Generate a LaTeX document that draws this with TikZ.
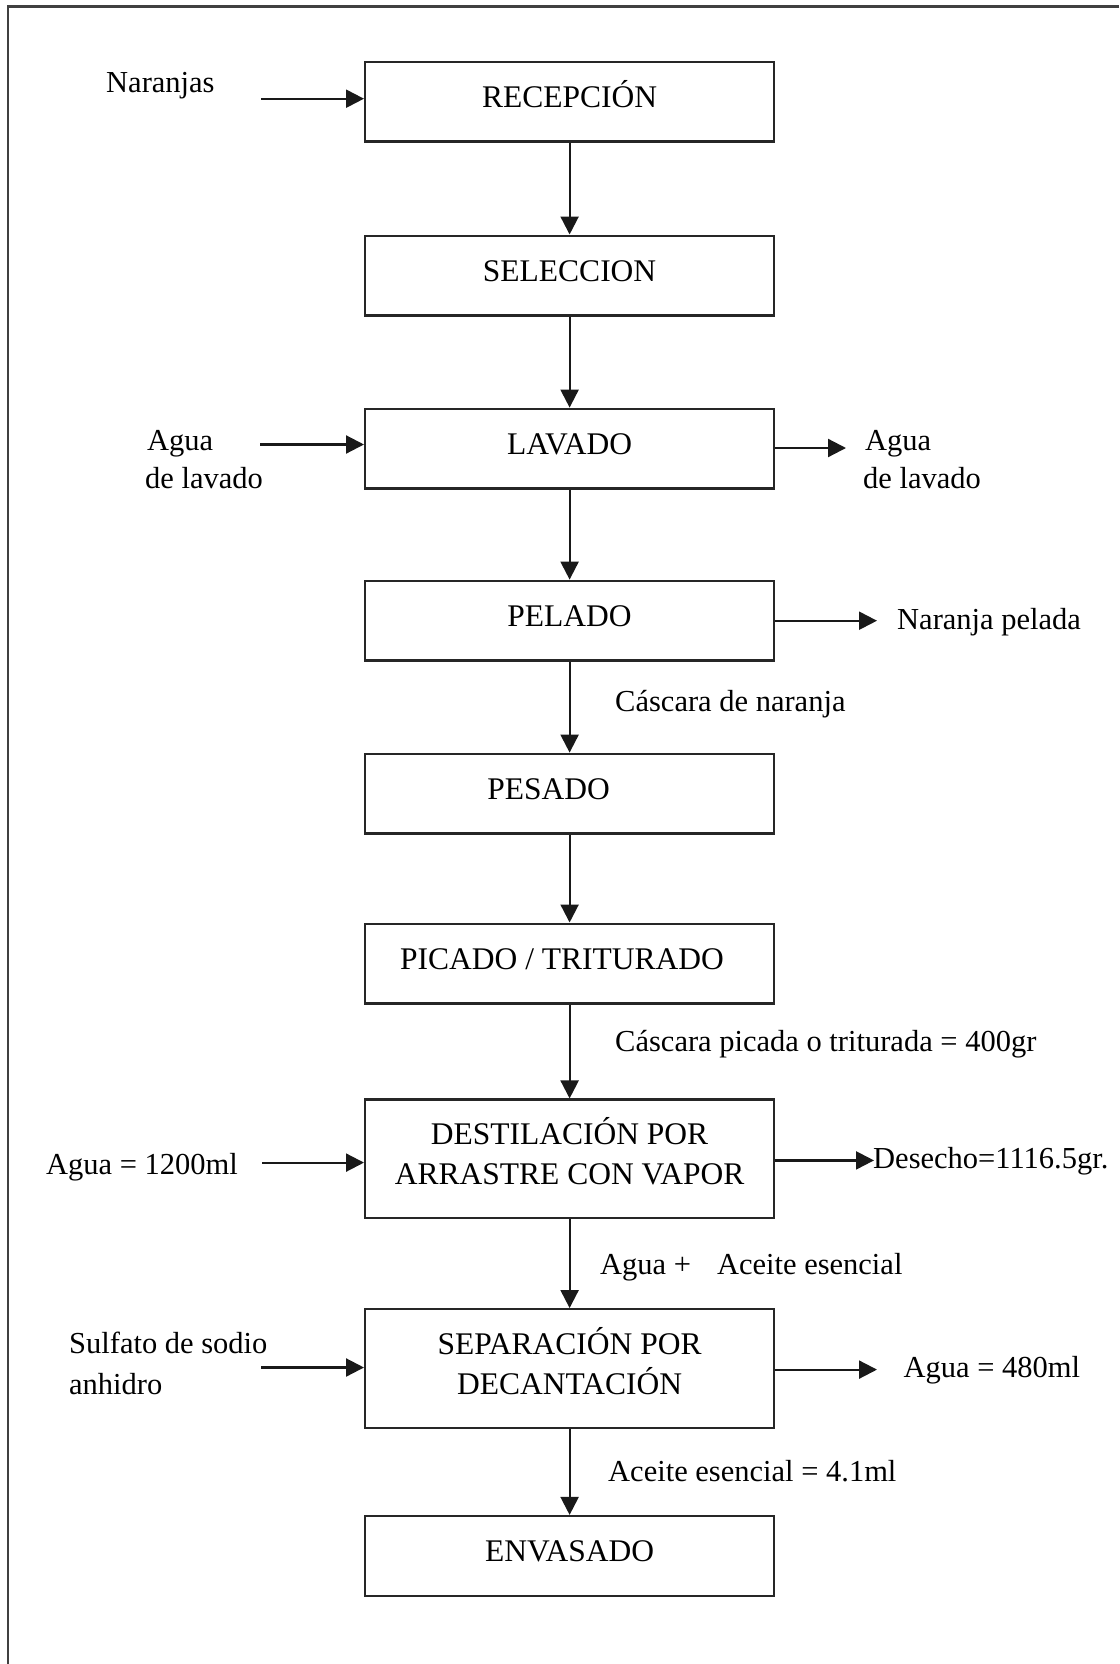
\documentclass[tikz,border=0pt]{standalone}
\usepackage{fontspec}
\setmainfont{Liberation Serif}
\usetikzlibrary{arrows.meta}
\begin{document}
\begin{tikzpicture}[x=1pt,y=-1pt,
  procbox/.style={draw=black!85, line width=2.4pt, minimum width=408.8pt, minimum height=79.6pt,
    inner sep=0pt, font=\fontsize{31.5}{40}\selectfont, text height=21pt, text depth=10pt},
  procbox2/.style={draw=black!85, line width=2.4pt, minimum width=408.8pt, minimum height=118.5pt,
    inner sep=0pt, font=\fontsize{31.5}{40}\selectfont, align=center, text depth=16pt},
  flow/.style={draw=black!90, line width=2.2pt, -{Triangle[length=18pt,width=18pt]}},
  lbl/.style={font=\fontsize{30.5}{38}\selectfont, inner sep=0pt, text height=22pt, text depth=6pt, anchor=west},
  frame/.style={draw=black!75, line width=2.2pt},
]
\useasboundingbox (0,0) rectangle (1119,1664);
\fill[white] (0,0) rectangle (1119,1664);
% frame (top and left only)
\coordinate (ftr) at (1119,6.5);
\coordinate (ftl) at (8,6.5);
\coordinate (fbl) at (8,1664);
\draw[frame] (ftr) -- (ftl) -- (fbl);

% process boxes
\node[procbox] (recep) at (569.6,101.9) {RECEPCIÓN};
\node[procbox] (selec) at (569.6,275.5) {SELECCION};
\node[procbox] (lavado) at (569.6,448.6) {LAVADO};
\node[procbox] (pelado) at (569.6,620.6) {PELADO};
\node[procbox] (pesado) at (569.6,793.6) {PESADO\hspace*{42pt}};
\node[procbox] (picado) at (569.6,963.5) {PICADO / TRITURADO\hspace*{15pt}};
\node[procbox2] (destil) at (569.6,1158.9) {DESTILACIÓN POR\\ARRASTRE CON VAPOR};
\node[procbox2] (separ) at (569.6,1368.5) {SEPARACIÓN POR\\DECANTACIÓN};
\node[procbox] (envas) at (569.6,1555.9) {ENVASADO};

% main flow
\draw[flow] (recep.south) -- (selec.north);
\draw[flow] (selec.south) -- (lavado.north);
\draw[flow] (lavado.south) -- (pelado.north);
\draw[flow] (pelado.south) -- (pesado.north);
\draw[flow] (pesado.south) -- (picado.north);
\draw[flow] (picado.south) -- (destil.north);
\draw[flow] (destil.south) -- (separ.north);
\draw[flow] (separ.south) -- (envas.north);

% labels on main flow
\node[lbl] (lcasc) at (615,703) {Cáscara de naranja};
\node[lbl] (lpic) at (615,1043.6) {Cáscara picada o triturada = 400gr};
\node[lbl] (lagac) at (600,1266.6) {Agua +\hspace{0.6em} Aceite esencial};
\node[lbl] (lacei) at (608,1473.6) {Aceite esencial = 4.1ml};

% inputs (left)
\node[lbl] (lnar) at (106,85) {Naranjas};
\coordinate (inar) at (261,98.7);
\draw[flow] (inar) -- (inar -| recep.west);

\node[lbl] (lagua1) at (147,442.7) {Agua};
\node[lbl] (lagua2) at (145,480.5) {de lavado};
\coordinate (ilav) at (260,444.5);
\draw[flow] (ilav) -- (ilav -| lavado.west);

\node[lbl] (lagua3) at (46,1166) {Agua = 1200ml};
\coordinate (ides) at (262,1162.6);
\draw[flow] (ides) -- (ides -| destil.west);

\node[lbl] (lsulf1) at (69,1345) {Sulfato de sodio};
\node[lbl] (lsulf2) at (69,1386.6) {anhidro};
\coordinate (isep) at (261,1367.5);
\draw[flow] (isep) -- (isep -| separ.west);

% outputs (right)
\coordinate (olav) at (846,448);
\draw[flow] (olav -| lavado.east) -- (olav);
\node[lbl] (ragua1) at (865,442.7) {Agua};
\node[lbl] (ragua2) at (863,480.5) {de lavado};

\coordinate (opel) at (877,620.7);
\draw[flow] (opel -| pelado.east) -- (opel);
\node[lbl] (rnar) at (897,621) {Naranja pelada};

\coordinate (odes) at (874,1160.4);
\draw[flow] (odes -| destil.east) -- (odes);
\node[lbl] (rdes) at (873,1160.4) {Desecho=1116.5gr.};

\coordinate (osep) at (877,1369.6);
\draw[flow] (osep -| separ.east) -- (osep);
\node[lbl] (rsep) at (903.5,1369.6) {Agua = 480ml};
\end{tikzpicture}
\end{document}
